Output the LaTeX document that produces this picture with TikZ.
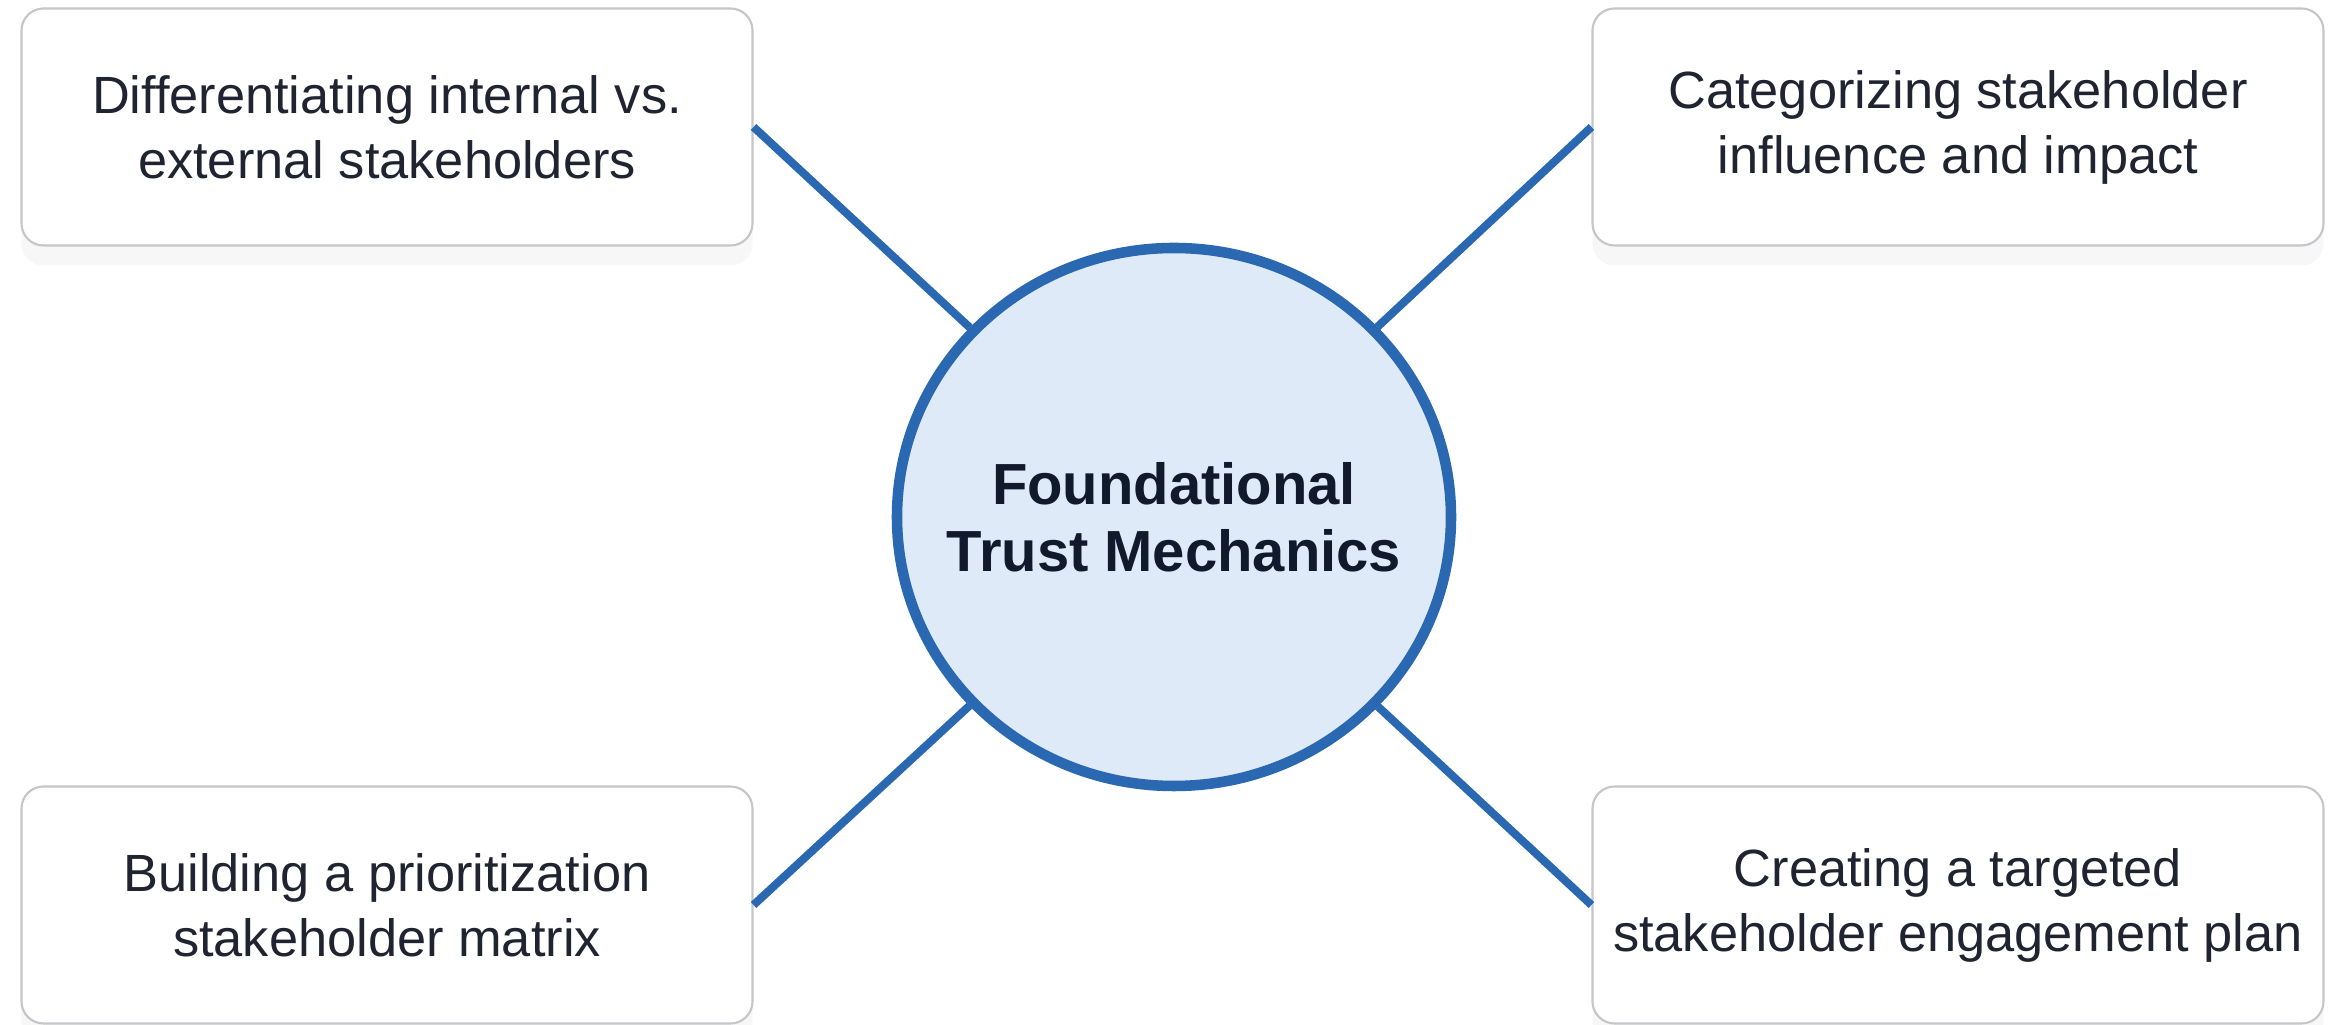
\documentclass[tikz,border=0pt]{standalone}
\usepackage{fontspec}
\setmainfont{Liberation Sans}
\usetikzlibrary{shapes.geometric,shadows}
\definecolor{hubblue}{HTML}{2A68B1}
\definecolor{hubfill}{HTML}{DEEAF8}
\definecolor{boxline}{HTML}{C4C6CA}
\definecolor{inkdark}{HTML}{1F2430}
\definecolor{titleink}{HTML}{101A2C}

\begin{document}
\begin{tikzpicture}[
    topic/.style={draw=boxline, line width=0.6pt, fill=white, rounded corners=0.22cm,
        minimum width=7.31cm, minimum height=2.37cm, align=center, text=inkdark,
        font=\fontsize{14.9}{18.5}\selectfont,
        drop shadow={opacity=0.06, shadow xshift=0cm, shadow yshift=-0.2cm}},
    hub/.style={ellipse, draw=hubblue, line width=3pt, fill=hubfill,
        minimum width=5.54cm, minimum height=5.38cm, inner sep=0pt},
    link/.style={draw=hubblue, line width=2.3pt}]
\useasboundingbox[fill=white] (0,0) rectangle (23.28,10.25);
\node[hub] (core) at (11.74,5.08) {};
\node[align=center, text=titleink, font=\fontsize{16.5}{19}\selectfont\bfseries]
    (coretext) at (core) {Foundational\\Trust Mechanics};
\node[topic] (internal) at (3.87,8.98) {Differentiating internal vs.\\external stakeholders};
\node[topic] (influence) at (19.58,8.98) {Categorizing stakeholder\\influence and impact};
\node[topic] (matrix) at (3.87,1.20) {Building a prioritization\\stakeholder matrix};
\node[topic] (plan) at (19.58,1.20) {Creating a targeted\\stakeholder engagement plan};
\draw[link] (internal.east) -- (core);
\draw[link] (influence.west) -- (core);
\draw[link] (matrix.east) -- (core);
\draw[link] (plan.west) -- (core);
\end{tikzpicture}
\end{document}
